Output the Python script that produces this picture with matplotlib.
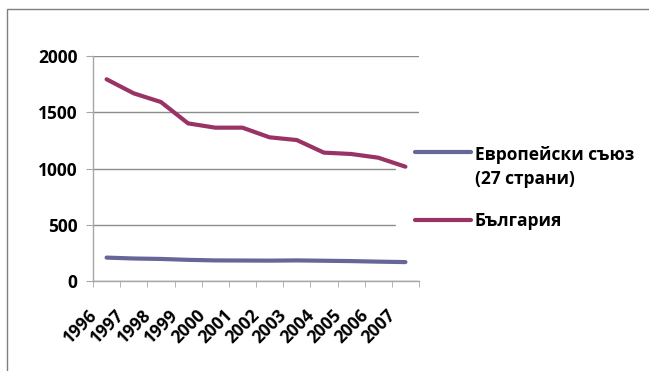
import matplotlib
matplotlib.use('Agg')
import matplotlib.pyplot as plt
import matplotlib.transforms as mtransforms
from matplotlib.patches import Rectangle
from matplotlib.legend_handler import HandlerLine2D
import numpy as np

plt.rcParams['font.family'] = ['Open Sans', 'DejaVu Sans']
plt.rcParams['font.weight'] = 'bold'

# Data
years = ['1996', '1997', '1998', '1999', '2000', '2001',
         '2002', '2003', '2004', '2005', '2006', '2007']
eu27 = [208, 200, 196, 188, 183, 182, 181, 183, 180, 177, 172, 168]
bulgaria = [1793, 1668, 1591, 1401, 1363, 1363, 1277, 1253, 1141, 1129, 1096, 1016]
series_names = ['Европейски съюз\n(27 страни)', 'България']


class ShiftedHandler(HandlerLine2D):
    # legend line placed next to the first text line, as in Excel
    def __init__(self, dy=0, **kw):
        super().__init__(**kw)
        self.dy = dy

    def create_artists(self, legend, orig_handle, xdescent, ydescent,
                       width, height, fontsize, trans):
        arts = super().create_artists(legend, orig_handle, xdescent, ydescent,
                                      width, height, fontsize, trans)
        for a in arts:
            a.set_ydata(np.asarray(a.get_ydata()) + self.dy)
        return arts


fig = plt.figure(figsize=(6.49, 3.71), dpi=100)
ax = fig.add_axes([93/649, 1 - 281/371, 326/649, 225/371])

x = np.arange(len(years))
l1, = ax.plot(x, eu27, color='#666699', lw=3.0, solid_capstyle='round', zorder=3)
l2, = ax.plot(x, bulgaria, color='#993366', lw=3.0, solid_capstyle='round', zorder=3)

ax.set_xlim(-0.5, len(years) - 0.5)
ax.set_ylim(0, 2000)
ax.set_yticks([0, 500, 1000, 1500, 2000])
ax.yaxis.grid(True, color='#8c8c8c', lw=1.0)
ax.set_axisbelow(True)

for s in ['top', 'right']:
    ax.spines[s].set_visible(False)
for s in ['left', 'bottom']:
    ax.spines[s].set_color('#a6a6a6')
    ax.spines[s].set_linewidth(1.0)

ax.tick_params(axis='y', length=5, color='#a6a6a6', labelsize=12.5, pad=6)
ax.set_xticks(x)
ax.set_xticks(np.arange(len(years) + 1) - 0.5, minor=True)
ax.tick_params(axis='x', which='major', length=0, pad=0, labelsize=12.5)
ax.tick_params(axis='x', which='minor', length=4, color='#a6a6a6')
ax.set_xticklabels(years, rotation=45, ha='right', va='top', rotation_mode='anchor',
                   fontweight='bold')
offset = mtransforms.ScaledTranslation(-19/100, -25/100, fig.dpi_scale_trans)
for lab in ax.get_xticklabels():
    lab.set_transform(lab.get_transform() + offset)
for lab in ax.get_yticklabels():
    lab.set_fontweight('bold')

leg = ax.legend([l1, l2], series_names, loc='upper left',
                bbox_to_anchor=(396/649, 1 - 127/371), bbox_transform=fig.transFigure,
                frameon=True, facecolor='white', edgecolor='white', framealpha=1,
                fancybox=False, fontsize=12.5, handlelength=3.2, handletextpad=0.25,
                labelspacing=1.35, borderpad=1.1, borderaxespad=0,
                handler_map={l1: ShiftedHandler(dy=11.5), l2: HandlerLine2D()})
leg.set_zorder(2)
for t in leg.get_texts():
    t.set_linespacing(1.45)
    t.set_fontweight('bold')

# outer chart-area border (only top and left edges visible)
fig.patches.append(Rectangle((7/649, -0.1), 1.2, (371 - 9)/371 + 0.1,
                             transform=fig.transFigure, fill=False,
                             edgecolor='#7f7f7f', lw=1.0))

fig.savefig('out.png', dpi=100)
